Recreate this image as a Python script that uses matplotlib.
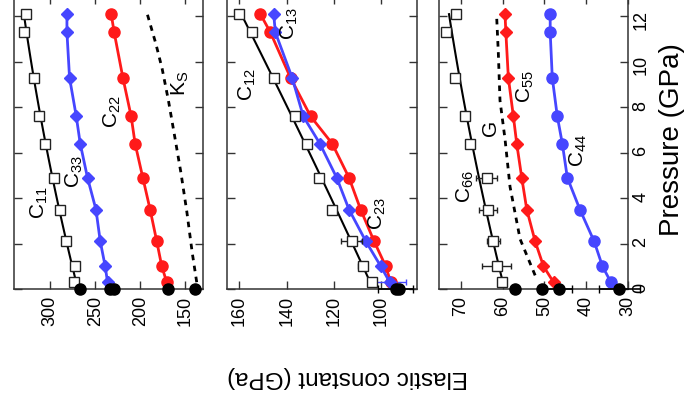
import numpy as np
import matplotlib
matplotlib.use('Agg')
import matplotlib.pyplot as plt

plt.rcParams['font.family'] = ['Liberation Sans', 'DejaVu Sans']
plt.rcParams['mathtext.fontset'] = 'custom'
plt.rcParams['mathtext.rm'] = 'Liberation Sans'
plt.rcParams['mathtext.default'] = 'regular'

# pressure points of the calculations (GPa)
pressure = [0.3, 1.0, 2.1, 3.5, 4.9, 6.4, 7.6, 9.3, 11.3, 12.1]

# panel 1
c11 = [274, 273, 282.6, 289, 295.6, 305.6, 313, 318.5, 329, 326.7]
c33 = [236.3, 238.9, 244.4, 249.2, 258.6, 266.7, 271.1, 278.6, 281.5, 281.5]
c22 = [170.4, 175.9, 181.5, 188.9, 197, 205.6, 210, 219.2, 228.9, 232.2]
ks_p = [0.3, 1.6, 3.4, 5.1, 6.6, 8.3, 9.7, 10.8, 12.1]
ks = [137, 142, 148, 154.5, 161, 168.5, 175.5, 182.5, 192]
exp1 = [267, 233, 229, 169, 139]

# panel 2
c12 = [103.8, 108, 112.6, 120.8, 126.4, 131.4, 136.7, 145.5, 154.7, 160.3]
c12_err = [1, 2, 4.5, 1, 1, 0.5, 0.5, 0.5, 1.5, 1]
c13 = [96.5, 100.3, 106.6, 113.7, 118.9, 126, 133, 137.7, 144.8, 145.5]
c13_err = [6.8, 0, 0, 0, 0, 0, 0, 0, 0, 0]
c23 = [96.1, 98.2, 103.1, 108.8, 113.7, 120.8, 129.9, 138.4, 146.9, 151.1]
exp2 = [94, 92.5]
exp2_err = [7.4, 0]

# panel 3
c66 = [60.2, 61.4, 62.2, 63.4, 63.8, 67.8, 69, 71.4, 73.4, 71.0]
c66_err = [0.5, 3.4, 1.5, 2.2, 2.5, 0.3, 0.3, 0.3, 1, 0.5]
c55 = [47.8, 50.2, 52.2, 54.2, 55.4, 56.6, 57.4, 58.6, 59.2, 59.4]
c44 = [34.1, 36.1, 38.1, 41.5, 44.5, 45.7, 46.9, 48.1, 48.6, 48.6]
g_p = [0.6, 2.2, 4.5, 6.6, 8.3, 10.4, 12.0]
g = [52.2, 55.8, 58.2, 59.4, 60.6, 61.0, 61.4]
exp3 = [57, 50.6, 46.6, 32.1]
exp3_err = [0, 0, 3.2, 4.9]

RED = '#ff1a1a'
BLUE = '#4646ff'
W, H = 688, 401

fig = plt.figure(figsize=(W / 100, H / 100), dpi=100)


def make_axes(left_px, xlim, xticks):
    bottom_px, top_px = 289, -4
    ax = fig.add_axes([left_px / W, (H - bottom_px) / H, 189.5 / W, (bottom_px - top_px) / H])
    ax.set_xlim(*xlim)
    ax.set_ylim(0, 12.9)
    ax.set_xticks(xticks)
    ax.set_yticks(range(0, 13, 2))
    ax.tick_params(direction='in', length=6, width=1, top=True, right=True,
                   labelsize=13, color='#333333')
    ax.tick_params(axis='x', labelrotation=90, pad=5)
    ax.tick_params(axis='y', labelleft=False)
    for s in ax.spines.values():
        s.set_linewidth(1.1)
        s.set_color('#333333')
    return ax


def fit_line(ax, p, vals, **kw):
    coef = np.polyfit(p, vals, 2)
    pp = np.linspace(min(p), max(p), 60)
    ax.plot(np.polyval(coef, pp), pp, **kw)


def squares(ax, p, vals, err=None):
    ax.errorbar(vals, p, xerr=err, fmt='s', ms=7, mfc='white', mec='#222222',
                mew=1, ecolor='#222222', elinewidth=1, capsize=2.5, zorder=4)


def exp_points(ax, vals, err=None):
    ax.errorbar(vals, [0] * len(vals), xerr=err, fmt='o', ms=8, color='black',
                elinewidth=1.2, capsize=3, clip_on=False, zorder=6)


lbl = dict(rotation=90, ha='center', va='center', fontsize=15)

# panel 1
ax1 = make_axes(13.5, (341, 130), [300, 250, 200, 150])
fit_line(ax1, pressure, c11, color='black', lw=1.5)
squares(ax1, pressure, c11)
ax1.plot(c33, pressure, '-D', color=BLUE, ms=6, lw=2)
ax1.plot(c22, pressure, '-o', color=RED, ms=8, lw=2)
ax1.plot(ks, ks_p, color='black', lw=2, ls=(0, (2, 2)))
exp_points(ax1, exp1)
ax1.text(312, 3.8, 'C$_{11}$', **lbl)
ax1.text(273, 5.15, 'C$_{33}$', **lbl)
ax1.text(231, 7.8, 'C$_{22}$', **lbl)
ax1.text(155.5, 9.05, 'K$_S$', **lbl)

# panel 2
ax2 = make_axes(227.5, (165, 85), [160, 140, 120, 100])
fit_line(ax2, pressure, c12, color='black', lw=1.5)
squares(ax2, pressure, c12, c12_err)
ax2.errorbar(c13, pressure, xerr=c13_err, fmt='-D', color=BLUE, ms=6, lw=2,
             elinewidth=1, capsize=2.5)
ax2.plot(c23, pressure, '-o', color=RED, ms=8, lw=2)
exp_points(ax2, exp2, exp2_err)
ax2.text(156.7, 9.0, 'C$_{12}$', **lbl)
ax2.text(138.9, 11.7, 'C$_{13}$', **lbl)
ax2.text(101.6, 3.3, 'C$_{23}$', **lbl)

# panel 3
ax3 = make_axes(438.5, (75.3, 30), [70, 60, 50, 40, 30])
ax3.tick_params(axis='y', labelright=True, labelrotation=90, pad=3)
fit_line(ax3, pressure, c66, color='black', lw=1.5)
squares(ax3, pressure, c66, c66_err)
ax3.plot(c55, pressure, '-D', color=RED, ms=6, lw=2)
ax3.plot(c44, pressure, '-o', color=BLUE, ms=8, lw=2)
ax3.plot(g, g_p, color='black', lw=2, ls=(0, (2, 2)))
exp_points(ax3, exp3, exp3_err)
ax3.text(69, 4.5, 'C$_{66}$', **lbl)
ax3.text(62.8, 7.1, 'G', **lbl)
ax3.text(54.6, 8.9, 'C$_{55}$', **lbl)
ax3.text(41.8, 6.1, 'C$_{44}$', **lbl)

fig.text(348 / W, 1 - 377 / H, 'Elastic constant (GPa)', rotation=180,
         ha='center', va='center', fontsize=17.5)
fig.text(672 / W, 1 - 140 / H, 'Pressure (GPa)', rotation=90,
         ha='center', va='center', fontsize=20)

fig.savefig('out.png', dpi=100)
